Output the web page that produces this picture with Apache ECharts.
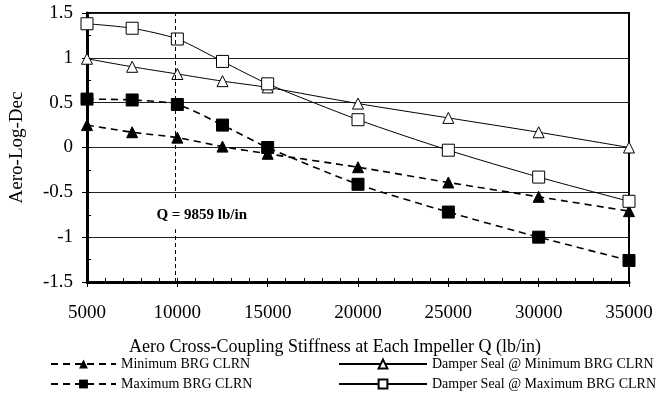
<!DOCTYPE html>
<html>
<head>
<meta charset="utf-8">
<script src="https://cdn.jsdelivr.net/npm/echarts@6/dist/echarts.min.js"></script>
<style>
  html, body { margin: 0; padding: 0; background: #fff; }
  #chart { width: 669px; height: 412px; }
</style>
</head>
<body>
<div id="chart"></div>
<script>
// stiffness values on x (lb/in)
const stiffness = [5000, 7500, 10000, 12500, 15000, 20000, 25000, 30000, 35000];

// aero log dec
const minBrg = [0.25, 0.17, 0.11, 0.01, -0.07, -0.22, -0.39, -0.55, -0.71];
const maxBrg = [0.54, 0.53, 0.48, 0.25, 0.00, -0.41, -0.72, -1.00, -1.26];
const sealMinBrg = [0.99, 0.90, 0.82, 0.74, 0.67, 0.49, 0.33, 0.17, 0.00];
const sealMaxBrg = [1.38, 1.33, 1.21, 0.96, 0.71, 0.31, -0.03, -0.33, -0.60];

const seriesNames = [
  'Minimum BRG CLRN',
  'Maximum BRG CLRN',
  'Damper Seal @ Minimum BRG CLRN',
  'Damper Seal @ Maximum BRG CLRN'
];

// vertical marker line and its label
const qLine = 9859;
const qLabelText = 'Q = 9859 lb/in';
const qLabelAt = [11350, -0.75];

const FONT = 'Liberation Serif';

function pairs(ys) {
  return stiffness.map((x, i) => [x, ys[i]]);
}

const chart = echarts.init(document.getElementById('chart'));

const dashed = { color: '#000', width: 1.6, type: [7, 5] };
const solid = { color: '#000', width: 1 };

const option = {
  animation: false,
  backgroundColor: '#fff',
  textStyle: { fontFamily: FONT, color: '#000' },
  title: {
    text: 'Aero Cross-Coupling Stiffness at Each Impeller Q (lb/in)',
    left: 124,
    top: 333,
    textStyle: { fontFamily: FONT, fontSize: 18, fontWeight: 'normal', color: '#000' }
  },
  grid: {
    left: 85, right: 40, top: 13, bottom: 130,
    show: true, borderColor: '#000', borderWidth: 2
  },
  legend: [
    {
      data: seriesNames.slice(0, 2),
      orient: 'vertical',
      left: 45, top: 352,
      itemWidth: 65, itemHeight: 11, itemGap: 6,
      textStyle: { fontFamily: FONT, fontSize: 14, color: '#000' }
    },
    {
      data: seriesNames.slice(2),
      orient: 'vertical',
      left: 333, top: 352,
      itemWidth: 88, itemHeight: 11, itemGap: 6,
      textStyle: { fontFamily: FONT, fontSize: 14, color: '#000' }
    }
  ],
  xAxis: [
    {
      type: 'value', min: 5000, max: 35000, interval: 5000,
      axisLine: { onZero: false, lineStyle: { color: '#000', width: 3 } },
      axisTick: { inside: false, length: 5, lineStyle: { color: '#000' } },
      axisLabel: {
        fontFamily: FONT, fontSize: 19, color: '#000', margin: 22,
        formatter: v => String(v)
      },
      splitLine: { show: false }
    },
    {
      // minor ticks pointing inward
      type: 'value', min: 5000, max: 35000, interval: 1000, position: 'bottom',
      axisLine: { show: false, onZero: false },
      axisTick: { inside: true, length: 4, lineStyle: { color: '#000' } },
      axisLabel: { show: false },
      splitLine: { show: false }
    }
  ],
  yAxis: [
    {
      type: 'value', min: -1.5, max: 1.5, interval: 0.5,
      name: 'Aero-Log-Dec', nameLocation: 'middle', nameGap: 60,
      nameTextStyle: { fontFamily: FONT, fontSize: 19, color: '#000' },
      axisLine: { show: true, onZero: false, lineStyle: { color: '#000', width: 3 } },
      axisTick: { show: true, inside: false, length: 5, lineStyle: { color: '#000' } },
      axisLabel: { fontFamily: FONT, fontSize: 19, color: '#000', margin: 14 },
      splitLine: { show: true, lineStyle: { color: '#222', width: 1 } }
    },
    {
      type: 'value', min: -1.5, max: 1.5, interval: 0.25, position: 'left',
      axisLine: { show: false, onZero: false },
      axisTick: { show: true, inside: true, length: 4, lineStyle: { color: '#000' } },
      axisLabel: { show: false },
      splitLine: { show: false }
    }
  ],
  series: [
    {
      name: seriesNames[0], type: 'line', smooth: 0.25,
      data: pairs(minBrg),
      symbol: 'triangle', symbolSize: 11,
      itemStyle: { color: '#000', borderColor: '#000' },
      lineStyle: dashed,
      markLine: {
        silent: true, symbol: ['none', 'none'],
        label: { show: false },
        lineStyle: { color: '#000', width: 1, type: [4, 3] },
        data: [{ xAxis: qLine }]
      },
      markPoint: {
        silent: true, symbol: 'circle', symbolSize: 0,
        label: {
          show: true, position: 'inside', formatter: qLabelText,
          fontFamily: FONT, fontSize: 15, fontWeight: 'bold', color: '#000',
          backgroundColor: '#fff', padding: [7, 3]
        },
        data: [{ coord: qLabelAt }]
      },
      z: 3
    },
    {
      name: seriesNames[1], type: 'line', smooth: 0.25,
      data: pairs(maxBrg),
      symbol: 'rect', symbolSize: 12,
      itemStyle: { color: '#000', borderColor: '#000' },
      lineStyle: dashed,
      z: 3
    },
    {
      name: seriesNames[2], type: 'line', smooth: 0.25,
      data: pairs(sealMinBrg),
      symbol: 'triangle', symbolSize: 11,
      itemStyle: { color: '#fff', borderColor: '#000', borderWidth: 1 },
      lineStyle: solid,
      z: 4
    },
    {
      name: seriesNames[3], type: 'line', smooth: 0.25,
      data: pairs(sealMaxBrg),
      symbol: 'rect', symbolSize: 12,
      itemStyle: { color: '#fff', borderColor: '#000', borderWidth: 1 },
      lineStyle: solid,
      z: 4
    }
  ]
};

chart.setOption(option);
</script>
</body>
</html>
